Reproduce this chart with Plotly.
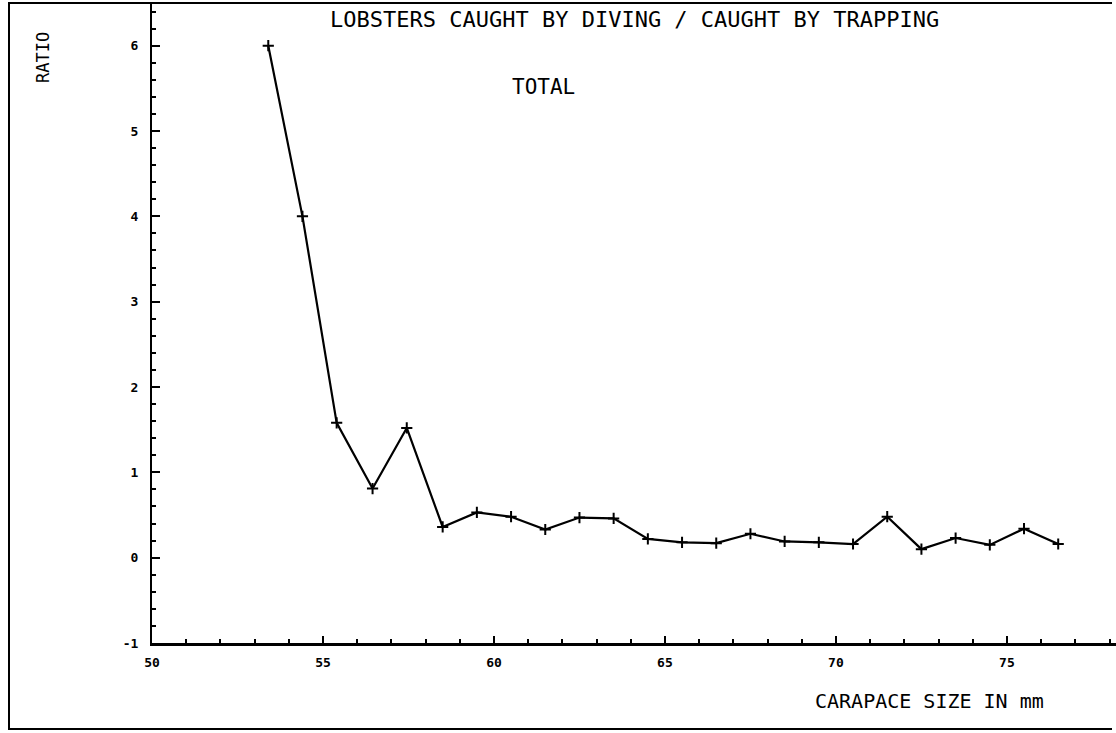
import plotly.graph_objects as go

# ---- data ----
carapace_mm = [53.4, 54.4, 55.4, 56.45, 57.45, 58.5, 59.5, 60.5, 61.5, 62.5,
               63.5, 64.5, 65.5, 66.5, 67.5, 68.5, 69.5, 70.5, 71.5, 72.5,
               73.5, 74.5, 75.5, 76.5]
ratio = [6.0, 4.0, 1.58, 0.81, 1.52, 0.36, 0.53, 0.48, 0.33, 0.47,
         0.46, 0.22, 0.18, 0.17, 0.28, 0.19, 0.18, 0.16, 0.48, 0.10,
         0.23, 0.15, 0.34, 0.16]
x_ticks = [50, 55, 60, 65, 70, 75]
x_ticktext = ["50", "55", "60", "65", "70", "75"]
y_ticks = [-1, 0, 1, 2, 3, 4, 5, 6]
y_ticktext = ["-1", "0", "1", "2", "3", "4", "5", "6"]

W, H = 1116, 733
L, R, T, B = 152, 0, 3, 90
PW, PH = W - L - R, H - T - B

def px(x):
    return (x - L) / PW

def py(y):
    return (H - B - y) / PH

FONT = "DejaVu Sans Mono"

fig = go.Figure()
fig.add_trace(go.Scatter(
    x=carapace_mm, y=ratio, mode="lines+markers",
    line=dict(color="black", width=2.2),
    marker=dict(symbol="cross-thin", size=8, color="black",
                line=dict(color="black", width=2)),
    showlegend=False, hoverinfo="x+y"))

fig.update_layout(
    width=W, height=H,
    margin=dict(l=L, r=R, t=T, b=B, pad=0),
    paper_bgcolor="white", plot_bgcolor="white",
    xaxis=dict(range=[50, 78.19], tickvals=x_ticks, ticktext=x_ticktext,
               ticks="inside", ticklen=7, tickwidth=2, tickcolor="black",
               showline=True, linecolor="black", linewidth=3,
               showgrid=False, zeroline=False, mirror=False,
               tickfont=dict(family=FONT, size=13, color="black", weight="bold"),
               ticklabelstandoff=5,
               minor=dict(dtick=1, tick0=50, ticks="inside", ticklen=4,
                          tickwidth=1.5, tickcolor="black", showgrid=False)),
    yaxis=dict(range=[-1, 6.5], tickvals=y_ticks, ticktext=y_ticktext,
               ticks="inside", ticklen=8, tickwidth=2, tickcolor="black",
               showline=True, linecolor="black", linewidth=2,
               showgrid=False, zeroline=False, mirror=False,
               tickfont=dict(family=FONT, size=13, color="black", weight="bold"),
               ticklabelstandoff=9,
               minor=dict(dtick=0.2, tick0=0, ticks="inside", ticklen=4,
                          tickwidth=1.5, tickcolor="black", showgrid=False)),
)

ann = dict(xref="paper", yref="paper", showarrow=False,
           font=dict(family=FONT, color="black"))
fig.add_annotation(ann, x=px(634), y=py(19), text="LOBSTERS CAUGHT BY DIVING / CAUGHT BY TRAPPING",
                   font=dict(family=FONT, size=22, color="black"), xanchor="center", yanchor="middle")
fig.add_annotation(ann, x=px(543), y=py(87), text="TOTAL",
                   font=dict(family=FONT, size=21, color="black"), xanchor="center", yanchor="middle")
fig.add_annotation(ann, x=px(43), y=py(58), text="RATIO", textangle=-90,
                   font=dict(family=FONT, size=17, color="black"), xanchor="center", yanchor="middle")
fig.add_annotation(ann, x=px(929), y=py(701), text="CARAPACE SIZE IN mm",
                   font=dict(family=FONT, size=20, color="black"), xanchor="center", yanchor="middle")

# page frame (top, left, bottom) - open on the right as in the scan
xr, xl = px(W - 4), px(9)
yt, yb = py(3), py(729)
fig.add_shape(type="path", xref="paper", yref="paper",
              path=f"M {xr},{yt} L {xl},{yt} L {xl},{yb} L {xr},{yb}",
              line=dict(color="black", width=2), fillcolor="rgba(0,0,0,0)")

fig.write_html("out.html", config={"displayModeBar": False},
               post_script="document.body.style.margin='0';document.body.style.padding='0';document.body.style.overflow='hidden';")
